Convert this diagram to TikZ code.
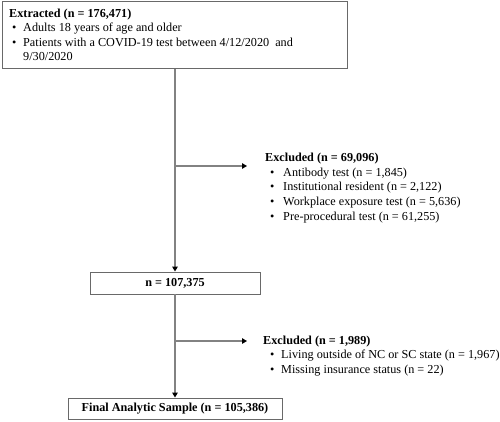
\documentclass[tikz,border=0pt]{standalone}
\usepackage{fontspec}
\setmainfont{Liberation Serif}
\usetikzlibrary{arrows.meta}
\definecolor{boxline}{RGB}{105,105,105}
\definecolor{conn}{RGB}{130,130,130}
\tikzset{
  x=1pt, y=-1pt,
  flowbox/.style={draw=boxline, line width=0.9pt, inner sep=0pt},
  conline/.style={draw=conn, line width=1.3pt},
  conarrow/.style={conline, -{Triangle[length=5pt,width=5.5pt,color=black]}},
  txt/.style={font=\fontsize{12.2}{14.6}\selectfont, align=left, anchor=north west, inner sep=0pt},
}
\newcommand{\bl}[1][11pt]{\makebox[#1][l]{\textbullet}}
\begin{document}
\begin{tikzpicture}
\useasboundingbox (0,0) rectangle (500,422);
% boxes
\node[flowbox, minimum width=345pt, minimum height=67pt, anchor=north west] (top) at (2,1.5) {};
\node[txt] (toptxt) at (9,8.5) {\textbf{Extracted (n = 176,471)}\\
\hspace*{3pt}\bl Adults 18 years of age and older\\
\hspace*{3pt}\bl Patients with a COVID-19 test between 4/12/2020\ \ and\\
\hspace*{14pt}9/30/2020};
\node[flowbox, minimum width=170pt, minimum height=22pt, font=\fontsize{12.2}{14}\selectfont\bfseries] (mid) at (175,283) {n = 107,375};
\node[flowbox, minimum width=214pt, minimum height=21pt, font=\fontsize{12.2}{14}\selectfont\bfseries] (fin) at (175,408.5) {Final Analytic Sample (n = 105,386)};
% exclusion texts
\node[txt] (ex1) at (265,153) {\textbf{Excluded (n = 69,096)}\\
\hspace*{5pt}\bl[10pt] Antibody test (n = 1,845)\\
\hspace*{5pt}\bl[10pt] Institutional resident (n = 2,122)\\
\hspace*{5pt}\bl[10pt] Workplace exposure test (n = 5,636)\\
\hspace*{5pt}\bl[10pt] Pre-procedural test (n = 61,255)};
\node[txt] (ex2) at (263,335.5) {\textbf{Excluded (n = 1,989)}\\
\hspace*{7pt}\bl[8pt] Living outside of NC or SC state (n = 1,967)\\
\hspace*{7pt}\bl[8pt] Missing insurance status (n = 22)};
% connectors
\coordinate (b1) at (175,166);
\coordinate (e1) at (247,166);
\coordinate (b2) at (175,341);
\coordinate (e2) at (247,341);
\draw[conarrow] (top.south -| mid.north) -- (mid.north);
\draw[conarrow] (b1) -- (e1);
\draw[conarrow] (mid.south) -- (fin.north);
\draw[conarrow] (b2) -- (e2);
\end{tikzpicture}
\end{document}
